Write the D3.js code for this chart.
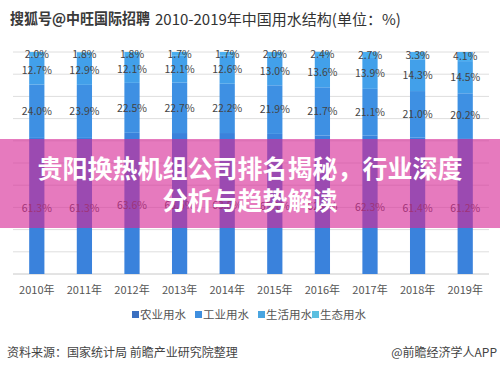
<!DOCTYPE html>
<html><head><meta charset="utf-8">
<script src="https://cdn.jsdelivr.net/npm/d3@7"></script>
<style>body{margin:0;background:#fff}svg{display:block;font-family:"Noto Sans CJK SC","Microsoft YaHei",sans-serif}</style>
</head><body><svg id="c" width="500" height="369"></svg>
<script>
const years = ["2010年","2011年","2012年","2013年","2014年","2015年","2016年","2017年","2018年","2019年"];
const seriesNames = ["农业用水","工业用水","生活用水","生态用水"];
const agri  = [61.3,61.3,63.6,63.5,63.5,63.1,62.4,62.3,61.4,61.2];
const indus = [24.0,23.9,22.5,22.7,22.2,21.9,21.7,21.1,21.0,20.2];
const dom   = [12.7,12.9,12.1,12.1,12.6,13.0,13.6,13.9,14.3,14.5];
const eco   = [2.0,1.8,1.8,1.7,1.7,2.0,2.4,2.7,3.3,4.1];
const yTicks = [0,10,20,30,40,50,60,70,80,90,100];

const barColors = ["#3a82dc","#3e90e3","#42a0ea","#4aaef0"];
const legendColors = ["#3a6fc0","#3f8fdf","#4aa5e0","#5bbfe0"];

const svg = d3.select("#c");
const L = 13, R = 489, T = 52, B = 274;
const x = d3.scaleBand().domain(years).range([L,R]).paddingInner(0.68).paddingOuter(0.34);
const y = d3.scaleLinear().domain([0,100]).range([B,T]);

svg.append("g").selectAll("line").data(yTicks).join("line")
  .attr("x1",L).attr("x2",R).attr("y1",d=>y(d)).attr("y2",d=>y(d))
  .attr("stroke",d=>d===0?"#c8c8c8":"#dedede").attr("stroke-width",1);

const rows = years.map((yr,i)=>({year:yr,"农业用水":agri[i],"工业用水":indus[i],"生活用水":dom[i],"生态用水":eco[i]}));
const stack = d3.stack().keys(seriesNames)(rows);

const g = svg.append("g");
stack.forEach((s,si)=>{
  g.append("g").selectAll("rect").data(s).join("rect")
    .attr("x",d=>x(d.data.year)).attr("width",x.bandwidth())
    .attr("y",d=>y(d[1])).attr("height",d=>y(d[0])-y(d[1]))
    .attr("fill",barColors[si]);
});
stack.forEach((s,si)=>{
  g.append("g").selectAll("text").data(s).join("text")
    .attr("x",d=>x(d.data.year)+x.bandwidth()/2)
    .attr("y",d=>(y(d[0])+y(d[1]))/2 + (si===0?2:0))
    .attr("dy","0.35em").attr("text-anchor","middle")
    .attr("font-size",10.5).attr("fill","#444")
    .text(d=>(d[1]-d[0]).toFixed(1)+"%");
});

svg.append("g").selectAll("text").data(years).join("text")
  .attr("x",d=>x(d)+x.bandwidth()/2).attr("y",294)
  .attr("text-anchor","middle").attr("font-size",11).attr("fill","#555").text(d=>d);

const legX = [132,195,258,312];
const lg = svg.append("g");
seriesNames.forEach((n,i)=>{
  lg.append("rect").attr("x",legX[i]).attr("y",311).attr("width",7).attr("height",7).attr("fill",legendColors[i]);
  lg.append("text").attr("x",legX[i]+8).attr("y",319).attr("font-size",11.5).attr("fill","#555").text(n);
});

svg.append("text").attr("x",155).attr("y",25).attr("font-size",15).attr("fill","#333").text("2010-2019年中国用水结构(单位：%)");
svg.append("text").attr("x",10).attr("y",24).attr("font-size",15).attr("font-weight","bold").attr("fill","#3a3a3a")
  .attr("textLength",140).attr("lengthAdjust","spacingAndGlyphs").text("搜狐号@中旺国际招聘");

svg.append("text").attr("x",7).attr("y",357).attr("font-size",12).attr("fill","#444").text("资料来源：国家统计局 前瞻产业研究院整理");
svg.append("text").attr("x",497).attr("y",357).attr("text-anchor","end").attr("font-size",12).attr("fill","#444").text("@前瞻经济学人APP");

svg.append("rect").attr("x",0).attr("y",139).attr("width",500).attr("height",89).attr("fill","rgba(215,40,150,0.62)");
const bt = svg.append("g").attr("font-size",25).attr("font-weight","bold").attr("fill","#fff").attr("text-anchor","middle");
bt.append("text").attr("x",250).attr("y",178).text("贵阳换热机组公司排名揭秘，行业深度");
bt.append("text").attr("x",250).attr("y",210).text("分析与趋势解读");
</script></body></html>
